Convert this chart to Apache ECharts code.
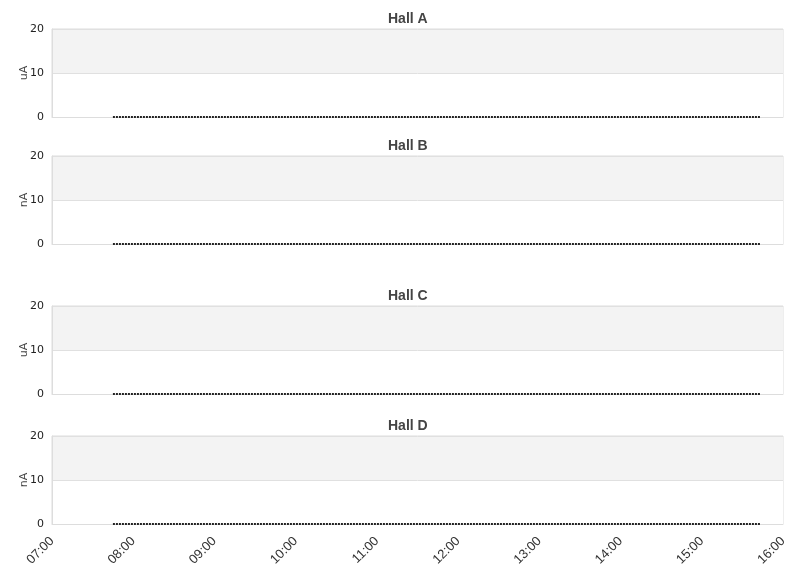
<!DOCTYPE html>
<html><head><meta charset="utf-8">
<script src="https://cdn.jsdelivr.net/npm/echarts@6/dist/echarts.min.js"></script>
<style>html,body{margin:0;padding:0;background:#fff}#c{width:811px;height:578px}</style>
</head><body><div id="c"></div>
<script>
const halls = ['Hall A', 'Hall B', 'Hall C', 'Hall D'];
const units = ['uA', 'nA', 'uA', 'nA'];
const times = ['2024-01-01 07:45', '2024-01-01 15:43'];
const hallA = [0, 0];
const hallB = [0, 0];
const hallC = [0, 0];
const hallD = [0, 0];
const seriesValues = [hallA, hallB, hallC, hallD];
const xMin = '2024-01-01 07:00';
const xMax = '2024-01-01 16:00';
const yTicks = [0, 10, 20];

const gridTops = [29, 156, 306, 436];
const gridH = 88;
const titleTops = [12, 139, 289, 419];

const chart = echarts.init(document.getElementById('c'));
const option = {
  animation: false,
  title: halls.map((h, i) => ({
    text: h, left: 388, top: titleTops[i], padding: 0,
    textStyle: {fontFamily: 'Liberation Sans', fontSize: 14, fontWeight: 'bold', color: '#444'}
  })),
  grid: halls.map((h, i) => ({
    left: 52, right: 28, top: gridTops[i], height: gridH,
    show: true, borderColor: '#ddd', borderWidth: 1, backgroundColor: 'transparent'
  })),
  xAxis: halls.map((h, i) => ({
    type: 'time', gridIndex: i,
    min: new Date(xMin.replace(' ', 'T')).getTime(),
    max: new Date(xMax.replace(' ', 'T')).getTime(),
    interval: 3600 * 1000,
    axisLine: {show: true, lineStyle: {color: '#ddd'}},
    axisTick: {show: false},
    splitLine: {show: false},
    axisLabel: {
      show: i === 3, rotate: 45, color: '#333', fontFamily: 'Liberation Sans', fontSize: 13,
      margin: 15, showMinLabel: true, showMaxLabel: true,
      formatter: v => { const d = new Date(v); return String(d.getHours()).padStart(2, '0') + ':' + String(d.getMinutes()).padStart(2, '0'); }
    }
  })),
  yAxis: halls.map((h, i) => ({
    type: 'value', gridIndex: i, min: yTicks[0], max: yTicks[yTicks.length - 1], interval: 10,
    name: units[i], nameLocation: 'middle', nameGap: 22, nameRotate: 90, nameMoveOverlap: false,
    nameTextStyle: {fontFamily: 'DejaVu Sans', fontSize: 11, color: '#444'},
    axisLine: {show: true, lineStyle: {color: '#ddd'}},
    axisTick: {show: false},
    axisLabel: {color: '#222', fontFamily: 'DejaVu Sans', fontSize: 11, margin: 8},
    splitLine: {show: true, lineStyle: {color: '#e0e0e0'}},
    splitArea: {show: true, areaStyle: {color: ['#ffffff', '#f3f3f3']}}
  })),
  series: halls.map((h, i) => ({
    type: 'line', name: h, xAxisIndex: i, yAxisIndex: i,
    data: times.map((t, k) => [new Date(t.replace(' ', 'T')).getTime(), seriesValues[i][k]]),
    showSymbol: false, symbol: 'none',
    lineStyle: {color: '#222', width: 2, type: [2, 1]}
  }))
};
chart.setOption(option);
</script></body></html>
